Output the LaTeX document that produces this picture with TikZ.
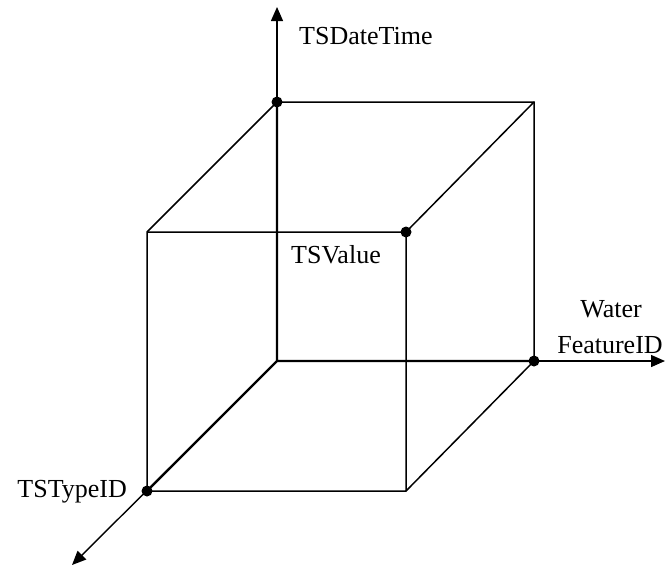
\documentclass[tikz,border=0pt]{standalone}
\usepackage{fontspec}
\setmainfont{Liberation Serif}
\usetikzlibrary{arrows.meta,positioning,calc}
\tikzset{
  >={Triangle[length=14pt,width=12pt]},
  % axlar och kub
  ax/.style={->,draw=black,line width=1.4pt},
  kant/.style={draw=black,line width=1.5pt},
  bak/.style={draw=black,line width=2.2pt},
  pkt/.style={circle,fill=black,inner sep=0pt,minimum size=11pt},
  lbl/.style={font=\fontsize{26}{36}\selectfont,inner sep=0pt,text=black},
}
\begin{document}
\begin{tikzpicture}[x=1pt,y=-1pt]
  \useasboundingbox (0,0) rectangle (666,566);
  \coordinate (o) at (277,361);
  \coordinate (ytip) at (277,7);
  \coordinate (xtip) at (665,361);
  \coordinate (ztip) at (72,565);
  \coordinate (dt) at (277,102);
  \coordinate (btr) at (534,102);
  \coordinate (feat) at (534,361);
  \coordinate (ftl) at (147,232);
  \coordinate (val) at (406,232);
  \coordinate (fbr) at (406,491);
  \coordinate (typ) at (147,491);
  % axlar
  \draw[ax] (o) -- (ytip);
  \draw[ax] (o) -- (xtip);
  \draw[ax] (o) -- (ztip);
  % kub
  \draw[bak] (dt) -- (o) -- (feat) (o) -- (typ);
  \draw[kant] (dt) -- (btr) -- (feat) -- (fbr) -- (typ) -- (ftl) -- cycle;
  \draw[kant] (ftl) -- (val) -- (btr) (val) -- (fbr);
  \node[pkt] (dtp) at (dt) {};
  \node[pkt] (valp) at (val) {};
  \node[pkt] (featp) at (feat) {};
  \node[pkt] (typp) at (typ) {};
  % etiketter
  \node[lbl,anchor=base west] (tsdt) at (299,44) {TSDateTime};
  \node[lbl,anchor=base] (tsval) at (336,263) {TSValue};
  \node[lbl,anchor=base] (water) at (611,317) {Water};
  \node[lbl,anchor=base] (featid) at (610,353) {FeatureID};
  \node[lbl,anchor=base east] (tstyp) at (127,497) {TSTypeID};
\end{tikzpicture}
\end{document}
